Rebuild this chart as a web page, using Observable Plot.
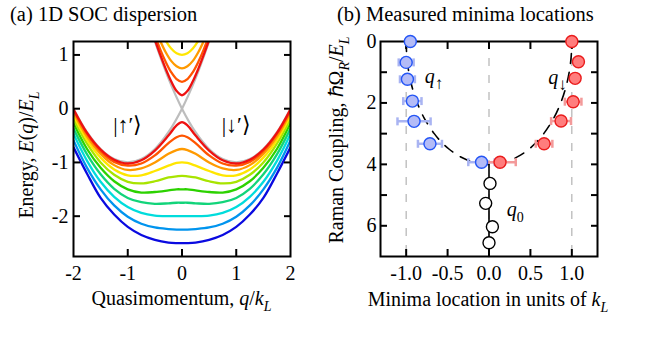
<!DOCTYPE html>
<html><head><meta charset="utf-8">
<script src="https://cdn.jsdelivr.net/npm/d3@7"></script>
<script src="https://cdn.jsdelivr.net/npm/@observablehq/plot@0.6"></script>
<style>
body{margin:0;background:#fff;}
#wrap{position:relative;width:654px;height:350px;overflow:hidden;background:#fff;}
#wrap svg{position:absolute;top:0;overflow:visible;}
#wrap svg text{font-family:"Liberation Serif",serif !important;}
</style></head><body><div id="wrap"></div>
<script>
// ---------- Panel (a): SOC dispersion ----------
const qGrid = [-2,-1.75,-1.5,-1.25,-1,-0.75,-0.5,-0.25,-0.1,0,0.1,0.25,0.5,0.75,1,1.25,1.5,1.75,2];
const omegaR = [0.5,1,1.5,2,2.5,3,3.5,4,4.5,5];
const curveColors = ["#ee1111","#ff5500","#ff9a00","#ffe600","#a8e400","#2cd200","#12d47a","#00dcdc","#0094ee","#0a0ae0"];
const lowerBand = [
  [-0.01,-0.45,-0.76,-0.95,-1.02,-0.96,-0.78,-0.50,-0.31,-0.25,-0.31,-0.50,-0.78,-0.96,-1.02,-0.95,-0.76,-0.45,-0.01],
  [-0.03,-0.47,-0.79,-0.99,-1.06,-1.02,-0.87,-0.64,-0.53,-0.50,-0.53,-0.64,-0.87,-1.02,-1.06,-0.99,-0.79,-0.47,-0.03],
  [-0.07,-0.52,-0.84,-1.05,-1.14,-1.11,-1.00,-0.84,-0.77,-0.75,-0.77,-0.84,-1.00,-1.11,-1.14,-1.05,-0.84,-0.52,-0.07],
  [-0.12,-0.58,-0.91,-1.13,-1.24,-1.24,-1.16,-1.06,-1.01,-1.00,-1.01,-1.06,-1.16,-1.24,-1.24,-1.13,-0.91,-0.58,-0.12],
  [-0.19,-0.65,-1.00,-1.23,-1.36,-1.39,-1.35,-1.28,-1.26,-1.25,-1.26,-1.28,-1.35,-1.39,-1.36,-1.23,-1.00,-0.65,-0.19],
  [-0.27,-0.75,-1.10,-1.35,-1.50,-1.56,-1.55,-1.52,-1.50,-1.50,-1.50,-1.52,-1.55,-1.56,-1.50,-1.35,-1.10,-0.75,-0.27],
  [-0.37,-0.85,-1.22,-1.49,-1.66,-1.74,-1.77,-1.76,-1.75,-1.75,-1.75,-1.76,-1.77,-1.74,-1.66,-1.49,-1.22,-0.85,-0.37],
  [-0.47,-0.97,-1.36,-1.64,-1.83,-1.94,-1.99,-2.00,-2.00,-2.00,-2.00,-2.00,-1.99,-1.94,-1.83,-1.64,-1.36,-0.97,-0.47],
  [-0.59,-1.10,-1.50,-1.80,-2.01,-2.14,-2.21,-2.24,-2.25,-2.25,-2.25,-2.24,-2.21,-2.14,-2.01,-1.80,-1.50,-1.10,-0.59],
  [-0.72,-1.21,-1.66,-1.97,-2.20,-2.35,-2.44,-2.49,-2.50,-2.50,-2.50,-2.49,-2.44,-2.35,-2.20,-1.97,-1.66,-1.21,-0.72]
];
const qUpper = [-0.5,-0.4,-0.3,-0.2,-0.1,0,0.1,0.2,0.3,0.4,0.5];
const upperBand = [
  [1.28,1.00,0.74,0.51,0.33,0.25,0.33,0.51,0.74,1.00,1.28],
  [1.37,1.10,0.87,0.68,0.55,0.50,0.55,0.68,0.87,1.10,1.37],
  [1.50,1.26,1.05,0.89,0.79,0.75,0.79,0.89,1.05,1.26,1.50],
  [1.66,1.44,1.26,1.12,1.03,1.00,1.03,1.12,1.26,1.44,1.66]
];
const qGrayA = [-0.5,-0.25,0,0.25,0.5,0.75,1,1.25,1.5,1.75,2];
const eGrayA = [1.25,0.5625,0,-0.4375,-0.75,-0.9375,-1,-0.9375,-0.75,-0.4375,0];
const qGrayB = [-2,-1.75,-1.5,-1.25,-1,-0.75,-0.5,-0.25,0,0.25,0.5];
const eGrayB = [0,-0.4375,-0.75,-0.9375,-1,-0.9375,-0.75,-0.4375,0,0.5625,1.25];
const xTicksA = [-2,-1,0,1,2];
const xMarksA = [-1,0,1];
const yTicksA = [-2,-1,0,1];
const stateLabels = ["|↑′⟩","|↓′⟩"];
const stateLabelQ = [-1,1];

// ---------- Panel (b): measured minima ----------
const upX = [-0.95,-1.00,-0.985,-0.925,-0.905,-0.713,-0.09];
const upY = [0,0.68,1.23,1.94,2.60,3.33,3.93];
const upErr = [0,0.09,0.09,0.11,0.2,0.145,0.16];
const downX = [1.0,1.08,1.04,1.016,0.87,0.665,0.133];
const downY = [0,0.66,1.20,1.96,2.59,3.33,3.93];
const downErr = [0,0.04,0.05,0.1,0.12,0.1,0.19];
const zeroX = [0.012,-0.04,0.041,0.0];
const zeroY = [4.62,5.27,6.03,6.55];
const theoryX = [-1,-0.992,-0.968,-0.927,-0.866,-0.781,-0.661,-0.583,-0.484,-0.38,-0.271,-0.157,-0.071,0,0.071,0.157,0.271,0.38,0.484,0.583,0.661,0.781,0.866,0.927,0.968,0.992,1];
const theoryOmega = [0,0.5,1,1.5,2,2.5,3,3.25,3.5,3.7,3.85,3.95,3.99,4,3.99,3.95,3.85,3.7,3.5,3.25,3,2.5,2,1.5,1,0.5,0];
const q0LineX = [0,0];
const q0LineOmega = [4,7];
const refLines = [-1,0,1];
const xTicksB = [-1,-0.5,0,0.5,1];
const yTicksB = [0,2,4,6];
const yMarksB = [1,2,3,4,5,6];

const FONT = '"Liberation Serif", serif';
const FS = 20;

function richText(svg, parts, o) {
  const size = o.size || FS;
  const t = d3.select(svg).append("text")
    .attr("x", o.x).attr("y", o.y)
    .style("font-family", FONT).style("font-size", size + "px")
    .attr("text-anchor", o.anchor || "start").attr("fill", "black");
  if (o.rotate) t.attr("transform", `rotate(${o.rotate},${o.x},${o.y})`);
  let shift = 0;
  for (const [s, st, scale] of parts) {
    const sp = t.append("tspan").text(s);
    const sub = st === "s" || st === "si";
    const target = sub ? size * 0.3 : 0;
    if (target !== shift) { sp.attr("dy", target - shift); shift = target; }
    if (st === "i" || st === "si") sp.style("font-style", "italic");
    if (sub) sp.style("font-size", (size * (scale || 0.7)) + "px");
  }
  return t;
}

const vbar = {draw(ctx, size) { const r = Math.sqrt(size / Math.PI); ctx.moveTo(0, -r); ctx.lineTo(0, r); }};
const wrap = document.getElementById("wrap");
const axText = {fontSize: FS, fontFamily: FONT, label: null};

// ---- build panel a
const marksA = [];
marksA.push(Plot.line(qGrayA.map((q, i) => ({q, e: eGrayA[i]})), {x: "q", y: "e", stroke: "#bdbdbd", strokeWidth: 2.2, curve: "catmull-rom", clip: true}));
marksA.push(Plot.line(qGrayB.map((q, i) => ({q, e: eGrayB[i]})), {x: "q", y: "e", stroke: "#bdbdbd", strokeWidth: 2.2, curve: "catmull-rom", clip: true}));
for (let i = omegaR.length - 1; i >= 0; i--) {
  marksA.push(Plot.line(qGrid.map((q, j) => ({q, e: lowerBand[i][j]})), {x: "q", y: "e", stroke: curveColors[i], strokeWidth: 2.3, curve: "catmull-rom", clip: true}));
  if (upperBand[i]) marksA.push(Plot.line(qUpper.map((q, j) => ({q, e: upperBand[i][j]})), {x: "q", y: "e", stroke: curveColors[i], strokeWidth: 2.3, curve: "catmull-rom", clip: true}));
}
marksA.push(Plot.text(stateLabels.map((t, i) => ({t, q: stateLabelQ[i]})), {x: "q", y: () => -0.31, text: "t", fontSize: 22, fontFamily: FONT, fill: "black"}));
marksA.push(Plot.axisX(xTicksA, {anchor: "bottom", tickSize: 0, tickPadding: 9, tickFormat: d => String(d), ...axText}));
marksA.push(Plot.axisX(xMarksA, {anchor: "bottom", tickSize: -7, strokeWidth: 2, tickFormat: () => "", label: null}));
marksA.push(Plot.axisX(xMarksA, {anchor: "top", tickSize: -7, strokeWidth: 2, tickFormat: () => "", label: null}));
marksA.push(Plot.axisY(yTicksA, {anchor: "left", tickSize: 0, tickPadding: 5, tickFormat: d => String(d), ...axText}));
marksA.push(Plot.axisY(yTicksA, {anchor: "left", tickSize: -7, strokeWidth: 2, tickFormat: () => "", label: null}));
marksA.push(Plot.axisY(yTicksA, {anchor: "right", tickSize: -7, strokeWidth: 2, tickFormat: () => "", label: null}));
marksA.push(Plot.frame({stroke: "black", strokeWidth: 2}));

const plotA = Plot.plot({
  width: 327, height: 350,
  marginLeft: 73, marginRight: 37, marginTop: 41, marginBottom: 94,
  style: {fontFamily: FONT, fontSize: FS + "px", background: "transparent", color: "black"},
  x: {domain: [-2, 2], label: null},
  y: {domain: [-2.75, 1.25], label: null},
  marks: marksA
});
plotA.style.left = "0px";
wrap.appendChild(plotA);
richText(plotA, [["(a) 1D SOC dispersion"]], {x: 10, y: 21, size: 20.5});
richText(plotA, [["Quasimomentum, "], ["q", "i"], ["/"], ["k", "i"], ["L", "si"]], {x: 181.5, y: 305, anchor: "middle"});
richText(plotA, [["Energy, "], ["E", "i"], ["("], ["q", "i"], [")/"], ["E", "i"], ["L", "si"]], {x: 33, y: 155, anchor: "middle", rotate: -90});

// ---- build panel b
const rowsUp = upX.map((x, i) => ({x, y: upY[i], err: upErr[i]}));
const rowsDown = downX.map((x, i) => ({x, y: downY[i], err: downErr[i]}));
const rowsZero = zeroX.map((x, i) => ({x, y: zeroY[i]}));
const errColUp = "#a9b4f2", errColDown = "#f39a9a";
const marksB = [
  Plot.ruleX(refLines, {stroke: "#b3b3b3", strokeWidth: 1.2, strokeDasharray: "8,9"}),
  Plot.line(theoryX.map((x, i) => ({x, y: theoryOmega[i]})), {x: "x", y: "y", stroke: "black", strokeWidth: 1.6, strokeDasharray: "10,9", curve: "catmull-rom"}),
  Plot.line(q0LineX.map((x, i) => ({x, y: q0LineOmega[i]})), {x: "x", y: "y", stroke: "black", strokeWidth: 1.6}),
  Plot.axisX(xTicksB, {anchor: "bottom", tickSize: 0, tickPadding: 9, tickFormat: d => d.toFixed(1), ...axText}),
  Plot.axisX(xTicksB, {anchor: "bottom", tickSize: -7, strokeWidth: 2, tickFormat: () => "", label: null}),
  Plot.axisX(xTicksB, {anchor: "top", tickSize: -7, strokeWidth: 2, tickFormat: () => "", label: null}),
  Plot.axisY(yTicksB, {anchor: "left", tickSize: 0, tickPadding: 4, tickFormat: d => String(d), ...axText}),
  Plot.axisY(yMarksB, {anchor: "left", tickSize: -7, strokeWidth: 2, tickFormat: () => "", label: null}),
  Plot.axisY(yMarksB, {anchor: "right", tickSize: -7, strokeWidth: 2, tickFormat: () => "", label: null}),
  Plot.frame({stroke: "black", strokeWidth: 2}),
  Plot.ruleY(rowsUp.filter(d => d.err > 0), {y: "y", x1: d => d.x - d.err, x2: d => d.x + d.err, stroke: errColUp, strokeWidth: 2.5}),
  Plot.dot(rowsUp.filter(d => d.err > 0), {x: d => d.x - d.err, y: "y", symbol: vbar, r: 4, stroke: errColUp, strokeWidth: 2.5}),
  Plot.dot(rowsUp.filter(d => d.err > 0), {x: d => d.x + d.err, y: "y", symbol: vbar, r: 4, stroke: errColUp, strokeWidth: 2.5}),
  Plot.ruleY(rowsDown.filter(d => d.err > 0), {y: "y", x1: d => d.x - d.err, x2: d => d.x + d.err, stroke: errColDown, strokeWidth: 2.5}),
  Plot.dot(rowsDown.filter(d => d.err > 0), {x: d => d.x - d.err, y: "y", symbol: vbar, r: 4, stroke: errColDown, strokeWidth: 2.5}),
  Plot.dot(rowsDown.filter(d => d.err > 0), {x: d => d.x + d.err, y: "y", symbol: vbar, r: 4, stroke: errColDown, strokeWidth: 2.5}),
  Plot.dot(rowsUp, {x: "x", y: "y", r: 6, fill: "#b3bbf7", stroke: "#2455f5", strokeWidth: 1.4}),
  Plot.dot(rowsDown, {x: "x", y: "y", r: 6, fill: "#ff7d7d", stroke: "#ea1c1c", strokeWidth: 1.4}),
  Plot.dot(rowsZero, {x: "x", y: "y", r: 6, fill: "white", stroke: "black", strokeWidth: 1.4})
];
const plotB = Plot.plot({
  width: 327, height: 350,
  marginLeft: 53, marginRight: 57, marginTop: 41, marginBottom: 94,
  style: {fontFamily: FONT, fontSize: FS + "px", background: "transparent", color: "black"},
  x: {domain: [-1.31, 1.31], label: null},
  y: {domain: [0, 7], reverse: true, label: null},
  marks: marksB
});
plotB.style.left = "327px";
wrap.appendChild(plotB);
richText(plotB, [["(b) Measured minima locations"]], {x: 10, y: 21, size: 20.5});
richText(plotB, [["Minima location in units of "], ["k", "i"], ["L", "si"]], {x: 161, y: 306, anchor: "middle"});
richText(plotB, [["Raman Coupling, "], ["ℏ"], ["Ω"], ["R", "si"], ["/"], ["E", "i"], ["L", "si"]], {x: 16, y: 140, anchor: "middle", rotate: -90});
const sxB = plotB.scale("x"), syB = plotB.scale("y");
richText(plotB, [["q", "i"], ["↑", "s", 0.85]], {x: sxB.apply(-0.77), y: syB.apply(1.37)});
richText(plotB, [["q", "i"], ["↓", "s", 0.85]], {x: sxB.apply(0.72), y: syB.apply(1.39)});
richText(plotB, [["q", "i"], ["0", "s"]], {x: sxB.apply(0.22), y: syB.apply(5.70)});
</script>
</body></html>
